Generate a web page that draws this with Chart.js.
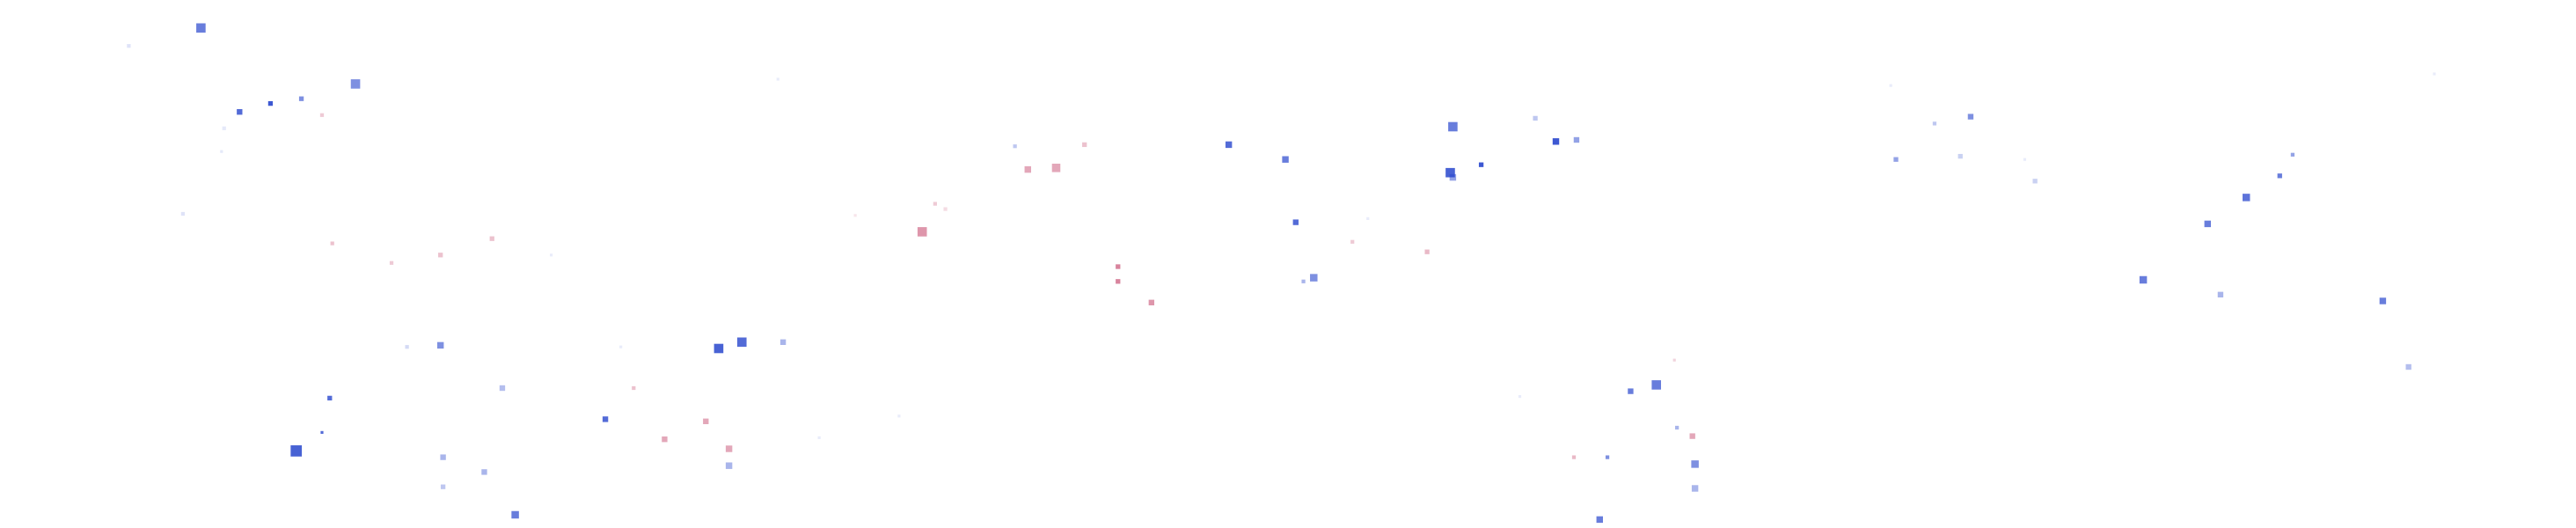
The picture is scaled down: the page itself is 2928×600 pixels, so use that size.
<!DOCTYPE html>
<html lang="en">
  <head>
    <meta charset="UTF-8" />
    <title>Scatter</title>
    <script src="https://cdn.jsdelivr.net/npm/chart.js"></script>
    <style>
      body { margin: 0; background: #fff; }
      #wrap { width: 2928px; height: 600px; }
    </style>
  </head>
  <body>
    <div id="wrap"><canvas id="chart"></canvas></div>
    <script>
      // blue series
      const blueX = [7.8, 5.0, 13.8, 9.3, 10.5, 11.7, 8.7, 8.6, 7.1, 17.1, 15.8, 12.8, 11.5, 12.5, 17.2, 18.8, 17.2, 20.0, 19.5, 23.5, 24.1, 27.9, 28.8, 30.4, 28.3, 31.8, 30.2, 39.4, 47.7, 49.9, 50.3, 51.0, 50.6, 56.4, 56.3, 56.4, 57.5, 59.6, 60.4, 61.2, 63.3, 64.3, 65.1, 65.8, 65.8, 62.4, 62.1, 75.1, 76.5, 73.6, 76.1, 79.0, 83.2, 85.7, 87.2, 88.5, 89.0, 86.2, 92.5, 93.5, 94.5, 73.4, 78.6, 53.1, 59.0, 34.9, 21.4];
      const blueY = [94.7, 91.3, 84.1, 78.8, 80.4, 81.3, 75.7, 71.3, 59.5, 34.6, 34.3, 24.6, 14.6, 18.1, 13.4, 10.6, 7.8, 2.5, 26.5, 20.6, 34.3, 34.0, 35.2, 35.2, 11.8, 17.1, 85.0, 72.3, 72.6, 69.8, 57.9, 47.4, 46.7, 76.0, 67.3, 66.4, 68.8, 77.6, 73.2, 73.5, 25.9, 27.1, 19.0, 12.1, 7.5, 13.4, 1.6, 76.6, 77.9, 69.8, 70.4, 65.7, 47.0, 57.6, 62.6, 66.7, 70.7, 44.2, 43.0, 30.5, 86.0, 83.8, 69.8, 58.6, 24.9, 21.2, 51.7];
      const blueSize = [5, 2, 5, 3, 2.5, 2.5, 2, 1.5, 2, 3.5, 2, 2.5, 6, 1.5, 3, 3, 2.5, 4, 3, 3, 1.5, 5, 5, 3, 3.5, 1.5, 1.5, 2, 3.5, 3.5, 3, 4, 2, 5, 5, 3.5, 2.5, 2.5, 3.5, 3, 3, 5, 2, 4, 3.5, 2, 3.5, 2, 3, 2.5, 2.5, 2.5, 4, 3.5, 4, 2.5, 2, 3, 3.5, 3, 1.5, 1.5, 1.5, 1.5, 1.5, 1.5, 1.5];
      const blueWeight = [0.7, 0.15, 0.6, 0.8, 0.9, 0.6, 0.12, 0.12, 0.15, 0.6, 0.2, 0.8, 0.85, 0.8, 0.4, 0.4, 0.3, 0.7, 0.35, 0.8, 0.1, 0.85, 0.8, 0.4, 0.4, 0.1, 0.1, 0.3, 0.8, 0.7, 0.8, 0.6, 0.4, 0.7, 0.85, 0.5, 0.9, 0.3, 0.9, 0.5, 0.7, 0.7, 0.4, 0.6, 0.4, 0.6, 0.7, 0.3, 0.6, 0.5, 0.25, 0.25, 0.7, 0.7, 0.75, 0.7, 0.5, 0.4, 0.7, 0.35, 0.1, 0.1, 0.1, 0.1, 0.1, 0.1, 0.1];

      // red series
      const redX = [12.5, 12.9, 15.2, 17.1, 19.1, 24.6, 25.8, 27.4, 28.3, 33.2, 35.8, 36.3, 36.7, 39.9, 41.0, 42.1, 43.4, 43.4, 44.7, 52.5, 55.4, 65.0, 65.7, 61.1];
      const redY = [78.2, 53.9, 50.2, 51.7, 54.8, 26.5, 16.8, 20.2, 15.0, 59.2, 56.1, 61.4, 60.4, 67.9, 68.2, 72.6, 49.5, 46.7, 42.7, 54.2, 52.3, 31.8, 17.4, 13.4];
      const redSize = [2, 2, 2, 2.5, 2.5, 2, 3, 3, 3.5, 1.5, 5, 2, 2, 3.5, 4.5, 2.5, 2.5, 2.5, 3, 2, 2.5, 1.5, 3, 2];
      const redWeight = [0.3, 0.35, 0.3, 0.35, 0.35, 0.35, 0.5, 0.5, 0.5, 0.15, 0.6, 0.3, 0.2, 0.5, 0.5, 0.35, 0.7, 0.7, 0.6, 0.3, 0.4, 0.25, 0.5, 0.4];

      function points(xs, ys) {
        return xs.map((x, i) => ({ x: x, y: ys[i] }));
      }
      function shades(rgb, weights) {
        return weights.map((w) => "rgba(" + rgb + "," + w + ")");
      }
      // squares read a bit smaller than the blobs, so scale up
      function radii(sizes) {
        return sizes.map((s) => s * 1.5);
      }

      const ctx = document.getElementById("chart").getContext("2d");
      new Chart(ctx, {
        type: "scatter",
        data: {
          datasets: [
            {
              label: "blue",
              data: points(blueX, blueY),
              pointStyle: "rect",
              pointRadius: radii(blueSize),
              pointBackgroundColor: shades("40,70,205", blueWeight),
              pointBorderWidth: 0,
            },
            {
              label: "red",
              data: points(redX, redY),
              pointStyle: "rect",
              pointRadius: radii(redSize),
              pointBackgroundColor: shades("200,80,115", redWeight),
              pointBorderWidth: 0,
            },
          ],
        },
        options: {
          responsive: true,
          maintainAspectRatio: false,
          animation: false,
          layout: { padding: 0, autoPadding: false },
          plugins: { legend: { display: false }, tooltip: { enabled: false } },
          scales: {
            x: { display: false, min: 0, max: 100 },
            y: { display: false, min: 0, max: 100 },
          },
        },
      });
    </script>
  </body>
</html>
